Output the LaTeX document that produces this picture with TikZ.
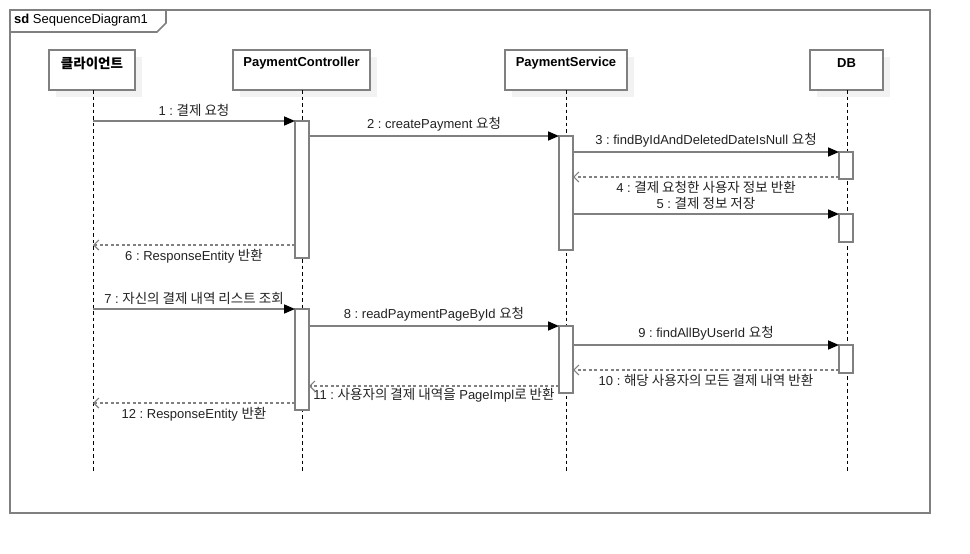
\documentclass[tikz,border=0pt]{standalone}
\usepackage{fontspec}
\setmainfont{Liberation Sans}
\newfontfamily\krf[Scale=1.04]{Noto Sans CJK KR}
\newcommand\kr[1]{{\krf #1}}
\usetikzlibrary{arrows.meta,shadows}
\definecolor{lineg}{HTML}{808080}
\definecolor{txt}{HTML}{222222}
\frenchspacing
\begin{document}
\begin{tikzpicture}[x=1pt,y=-1pt,
  font=\fontsize{13}{15}\selectfont,
  frameline/.style={draw=lineg,line width=1.6pt},
  headbox/.style={draw=lineg,line width=1.6pt,fill=white,inner sep=0pt,outer sep=0pt,
     copy shadow={shadow xshift=7pt,shadow yshift=-7pt,fill=black!5,draw=none}},
  headtxt/.style={font=\fontsize{13}{15}\selectfont\bfseries,text=black,inner sep=0pt},
  actbox/.style={draw=lineg,line width=1.6pt,fill=white,inner sep=0pt,outer sep=0pt,minimum width=14pt},
  lifeline/.style={draw=black,line width=0.9pt,dash pattern=on 3.5pt off 3pt},
  msg/.style={draw=lineg,line width=1.6pt,-{Triangle[length=11pt,width=9pt,black]}},
  ret/.style={draw=lineg,line width=1.5pt,dash pattern=on 3pt off 2.5pt,-{Straight Barb[length=5pt,width=10pt,lineg,line width=1.2pt]}},
  lab/.style={text=txt,inner sep=0pt},
]
\useasboundingbox (0,0) rectangle (970,554);
% frame
\draw[frameline] (10,10) rectangle (930,513);
\draw[frameline] (10,10) -- (166,10) -- (166,23) -- (157,32) -- (10,32);
\node[lab,anchor=west,text=black] (title) at (14,20) {\textbf{sd} SequenceDiagram1};

% lifeline heads
\node[headbox,minimum width=86pt,minimum height=40pt] (cl) at (92,70) {};
\node[headbox,minimum width=137pt,minimum height=40pt] (pc) at (301.5,70) {};
\node[headbox,minimum width=122pt,minimum height=40pt] (ps) at (566,70) {};
\node[headbox,minimum width=73pt,minimum height=40pt] (db) at (846.5,70) {};
\node[headtxt] (clT) at (92,63) {\kr{클라이언트}};
\node[headtxt] (pcT) at (301.5,63) {PaymentController};
\node[headtxt] (psT) at (566,63) {PaymentService};
\node[headtxt] (dbT) at (846.5,63) {DB};

% lifelines
\coordinate (clE) at (93,472);
\coordinate (pcE) at (302,472);
\coordinate (psE) at (566,472);
\coordinate (dbE) at (847,472);
\draw[lifeline] (clE |- cl.south) -- (clE);
\draw[lifeline] (pcE |- pc.south) -- (pcE);
\draw[lifeline] (psE |- ps.south) -- (psE);
\draw[lifeline] (dbE |- db.south) -- (dbE);

% activations
\node[actbox,minimum height=137pt] (pc1) at (302,189.5) {};
\node[actbox,minimum height=114pt] (ps1) at (566,193) {};
\node[actbox,minimum height=27pt] (db1) at (846,165.5) {};
\node[actbox,minimum height=28pt] (db2) at (846,228) {};
\node[actbox,minimum height=101pt] (pc2) at (302,359.5) {};
\node[actbox,minimum height=67pt] (ps2) at (566,359.5) {};
\node[actbox,minimum height=28pt] (db3) at (846,359) {};

% message endpoints on the client lifeline
\coordinate (c1) at (93,121);
\coordinate (c6) at (93,245);
\coordinate (c7) at (93,309);
\coordinate (c12) at (93,403);
\coordinate (y4) at (0,177);
\coordinate (y6) at (0,245);
\coordinate (y10) at (0,370);
\coordinate (y11) at (0,386);
\coordinate (y12) at (0,403);

% messages
\draw[msg] (c1) -- node[lab,above=4pt] (l1) {1 : \kr{결제 요청}} (pc1.north west);
\draw[msg] (pc1.east |- ps1.north) -- node[lab,above=4pt] (l2) {2 : createPayment \kr{요청}} (ps1.north west);
\draw[msg] (ps1.east |- db1.north) -- node[lab,above=4pt] (l3) {3 : findByIdAndDeletedDateIsNull \kr{요청}} (db1.north west);
\draw[ret] (db1.west |- y4) -- node[lab,below=3.5pt] (l4) {4 : \kr{결제 요청한 사용자 정보 반환}} (ps1.east |- y4);
\draw[msg] (ps1.east |- db2.north) -- node[lab,above=4pt] (l5) {5 : \kr{결제 정보 저장}} (db2.north west);
\draw[ret] (pc1.west |- y6) -- node[lab,below=3.5pt] (l6) {6 : ResponseEntity \kr{반환}} (c6);

\draw[msg] (c7) -- node[lab,above=4pt] (l7) {7 : \kr{자신의 결제 내역 리스트 조회}} (pc2.north west);
\draw[msg] (pc2.east |- ps2.north) -- node[lab,above=4pt] (l8) {8 : readPaymentPageById \kr{요청}} (ps2.north west);
\draw[msg] (ps2.east |- db3.north) -- node[lab,above=4pt] (l9) {9 : findAllByUserId \kr{요청}} (db3.north west);
\draw[ret] (db3.west |- y10) -- node[lab,below=3.5pt] (l10) {10 : \kr{해당 사용자의 모든 결제 내역 반환}} (ps2.east |- y10);
\draw[ret] (ps2.west |- y11) -- node[lab,below=1.5pt] (l11) {11 : \kr{사용자의 결제 내역을} PageImpl\kr{로 반환}} (pc2.east |- y11);
\draw[ret] (pc2.west |- y12) -- node[lab,below=3.5pt] (l12) {12 : ResponseEntity \kr{반환}} (c12);
\end{tikzpicture}
\end{document}
